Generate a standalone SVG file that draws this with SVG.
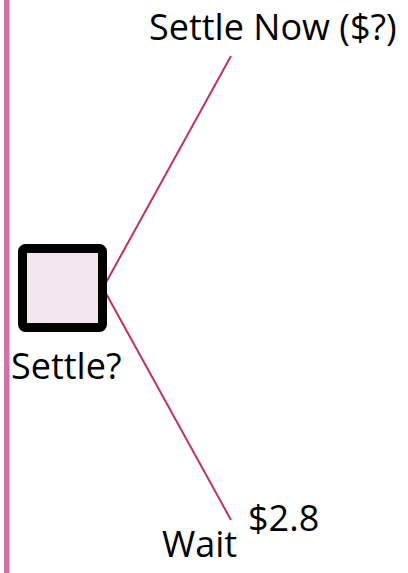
<svg xmlns="http://www.w3.org/2000/svg" width="408" height="573" viewBox="0 0 408 573">
<style>
text{font-family:"Open Sans","DejaVu Sans",sans-serif;font-size:36px;fill:#000}
.edge{stroke:#c0306a;stroke-width:2;fill:none}
</style>
<rect x="4" y="0" width="5.5" height="573" fill="#d271a9"/>
<g id="connectors">
<line class="edge" x1="103" y1="288" x2="231" y2="56"/>
<line class="edge" x1="103" y1="288" x2="231" y2="520"/>
</g>
<g id="settle">
<rect x="22.5" y="248.5" width="80" height="79" rx="3" fill="#f3e6ee" stroke="#000" stroke-width="9"/>
<text x="11" y="379">Settle?</text>
</g>
<g id="settle-now">
<text x="149" y="40">Settle Now ($?)</text>
</g>
<g id="wait">
<text x="162" y="557">Wait</text>
<text x="248" y="531">$2.8</text>
</g>
</svg>
